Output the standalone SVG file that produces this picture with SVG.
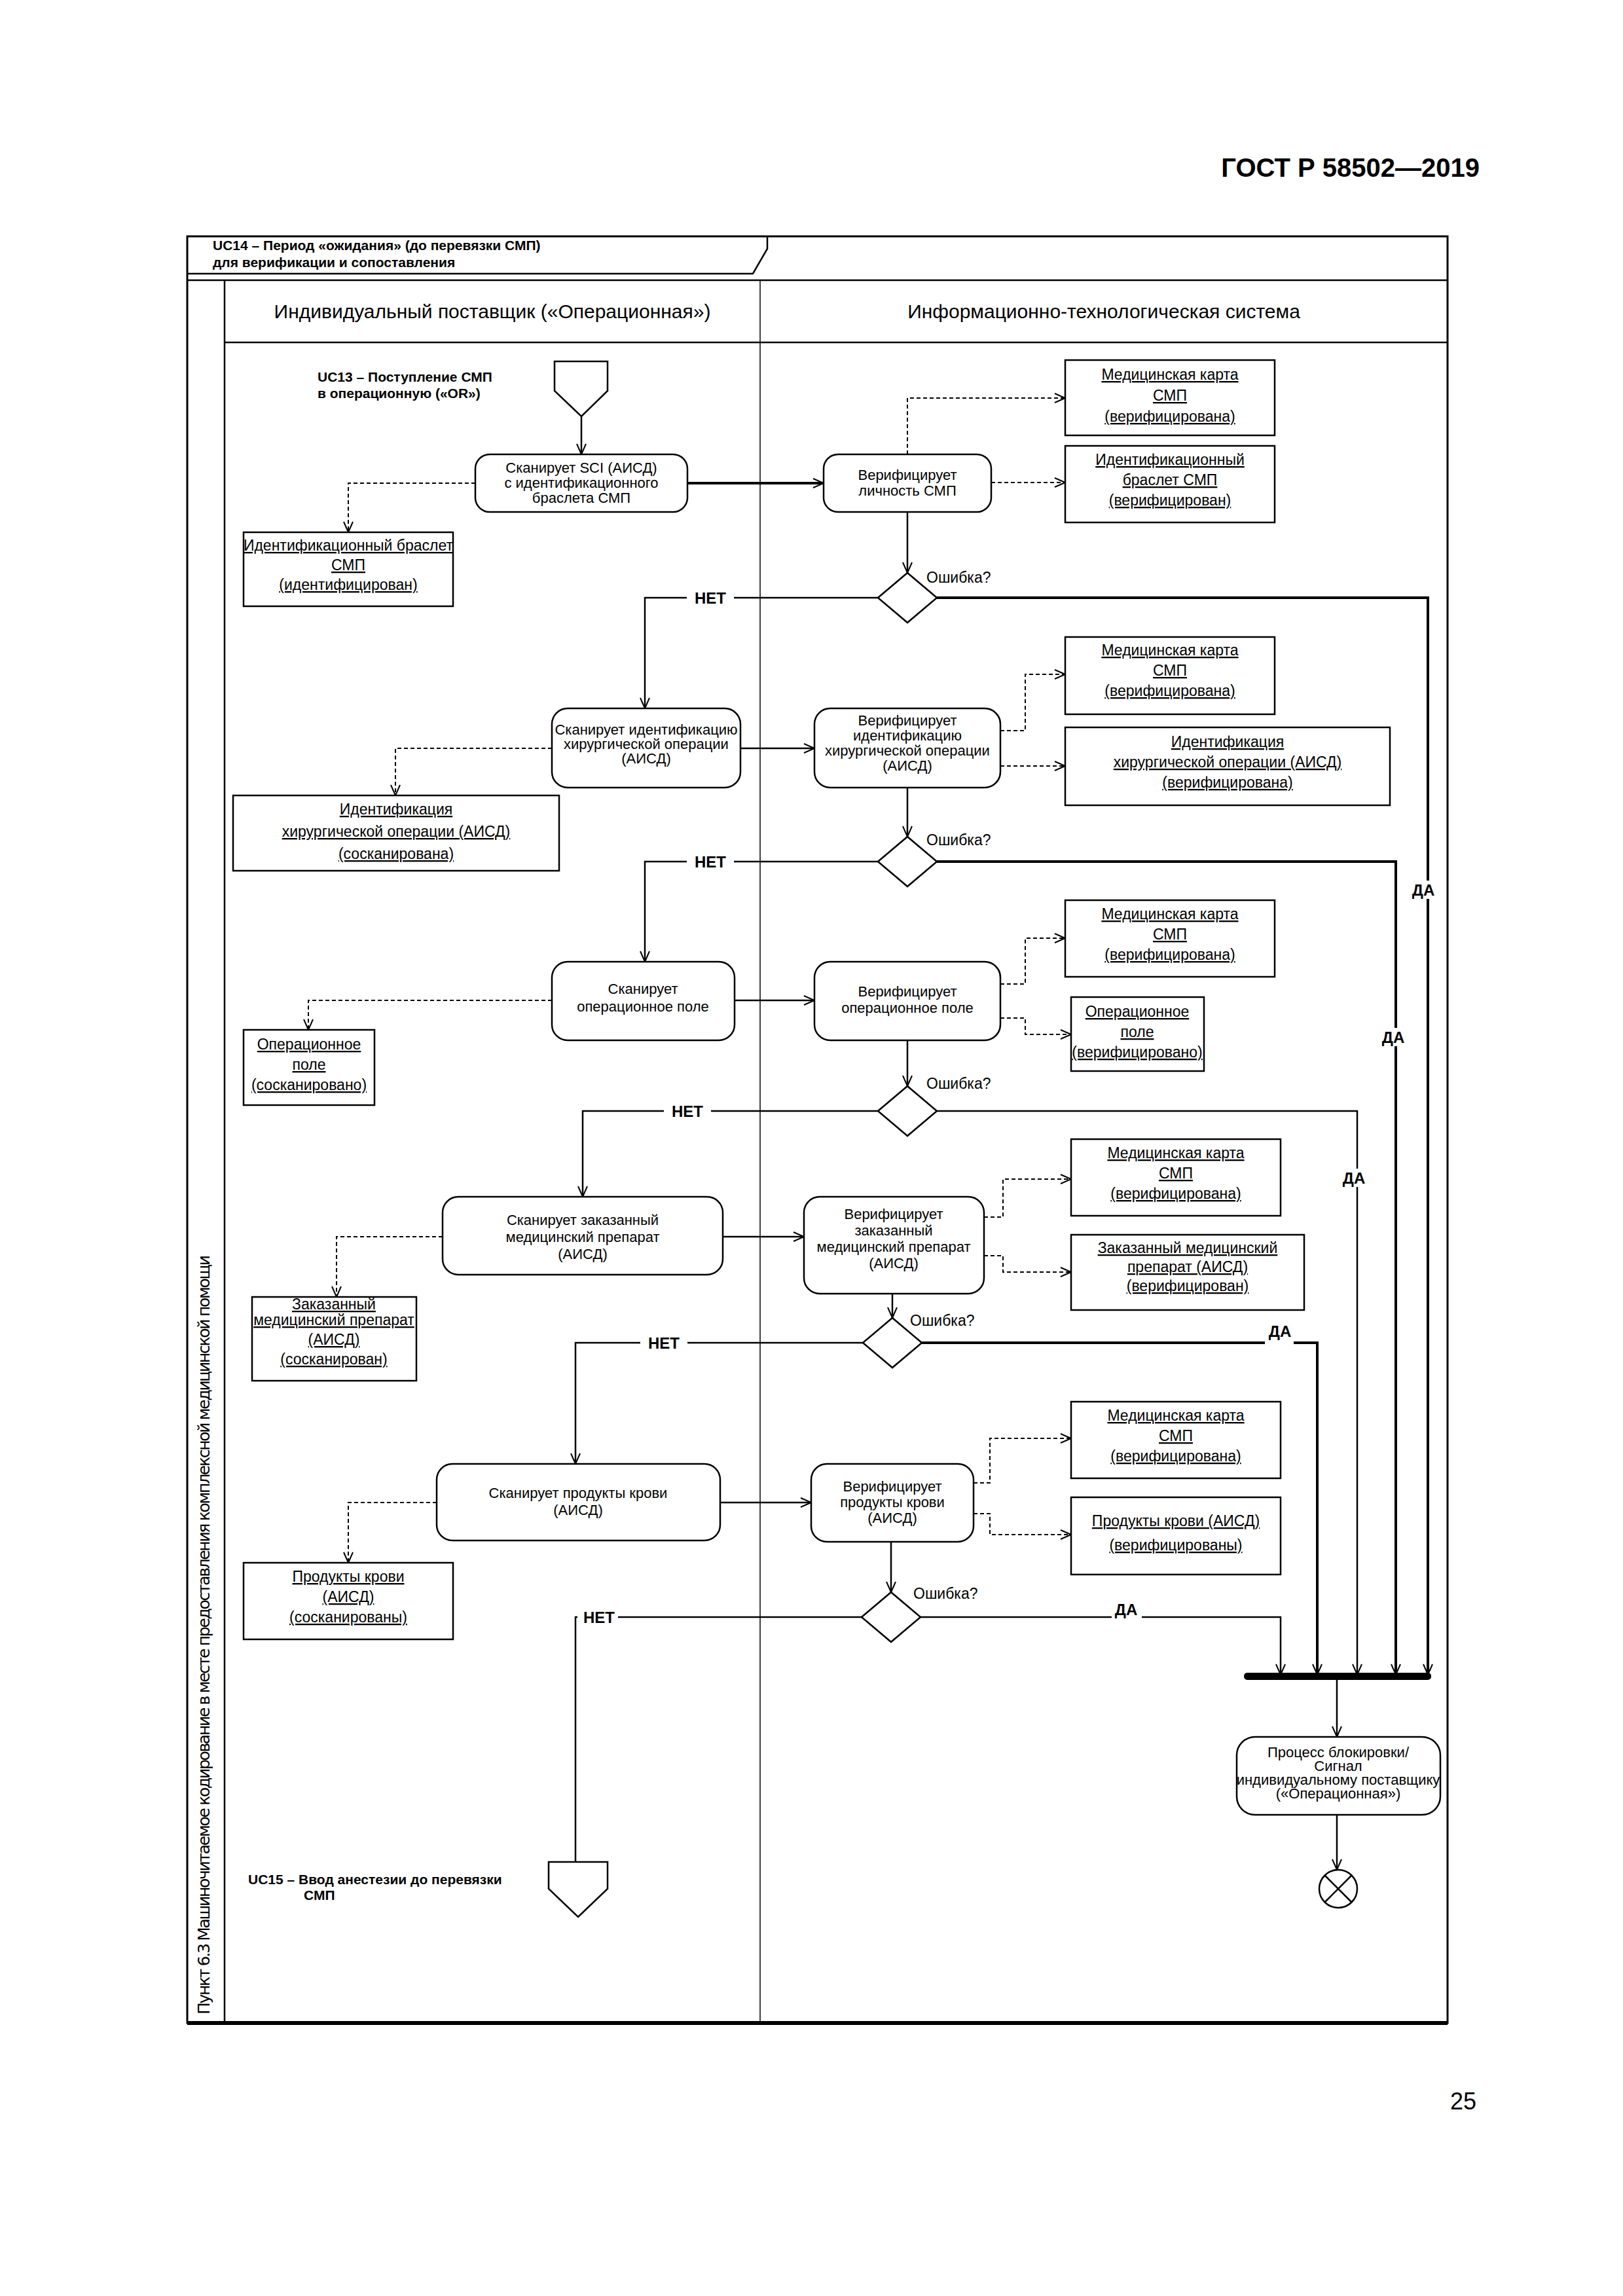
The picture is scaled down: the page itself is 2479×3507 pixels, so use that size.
<svg xmlns="http://www.w3.org/2000/svg" width="2479" height="3507" viewBox="0 0 2479 3507">
<style>
text{font-family:"Liberation Sans Narrow","Liberation Sans",Arial,sans-serif;fill:#000}
.n{font-size:22px;text-anchor:middle}
.o{font-size:23px;text-anchor:middle;text-decoration:underline}
.b{font-weight:bold}
.act{fill:#fff;stroke:#000;stroke-width:2.5}
.obj{fill:#fff;stroke:#000;stroke-width:2.5}
.ln{fill:none;stroke:#000;stroke-width:2.5}
.thk{fill:none;stroke:#000;stroke-width:4}
.ds{fill:none;stroke:#000;stroke-width:2;stroke-dasharray:6,4}
.dec{fill:#fff;stroke:#000;stroke-width:2.5}
</style>
<defs>
<marker id="ar" viewBox="0 0 20 20" refX="18" refY="10" markerWidth="20" markerHeight="20" markerUnits="userSpaceOnUse" orient="auto"><path d="M2,3 L18,10 L2,17" fill="none" stroke="#000" stroke-width="2"/></marker>
</defs>
<rect width="2479" height="3507" fill="#fff"/>
<text x="2260" y="270" font-size="40" class="b" text-anchor="end" style="font-family:'Liberation Sans',Arial,sans-serif">ГОСТ Р 58502—2019</text>
<text x="2255" y="3222" font-size="36" text-anchor="end" style="font-family:'Liberation Sans',Arial,sans-serif">25</text>

<g id="frame">
<rect x="286" y="361" width="1925" height="2729" fill="none" stroke="#000" stroke-width="3"/>
<line x1="286" y1="3090" x2="2211" y2="3090" stroke="#000" stroke-width="6"/>
<path d="M286,418 H1150 L1172,380 V361" class="ln"/>
<line x1="286" y1="428" x2="2211" y2="428" stroke="#000" stroke-width="2.5"/>
<line x1="343" y1="428" x2="343" y2="3090" stroke="#000" stroke-width="2.5"/>
<line x1="343" y1="523" x2="2211" y2="523" stroke="#000" stroke-width="2.5"/>
<line x1="1161" y1="428" x2="1161" y2="3090" stroke="#000" stroke-width="1.5"/>
<text x="325" y="382" font-size="21" class="b">UC14 – Период «ожидания» (до перевязки СМП)</text>
<text x="325" y="408" font-size="21" class="b">для верификации и сопоставления</text>
<text x="752" y="486" font-size="30" text-anchor="middle">Индивидуальный поставщик («Операционная»)</text>
<text x="1686" y="486" font-size="30" text-anchor="middle">Информационно-технологическая система</text>
<text transform="translate(320,2497) rotate(-90)" font-size="25" text-anchor="middle" textLength="1160" lengthAdjust="spacing" style="font-family:'DejaVu Sans',sans-serif">Пункт 6.3 Машиночитаемое кодирование в месте предоставления комплексной медицинской помощи</text>
</g>

<g id="connectors">
<path d="M888,636 V694" class="ln" marker-end="url(#ar)"/>
<path d="M1050,738 H1258" class="thk" marker-end="url(#ar)"/>
<path d="M726,738 H532 V813" class="ds" marker-end="url(#ar)"/>
<path d="M1386,694 V608 H1627" class="ds" marker-end="url(#ar)"/>
<path d="M1514,737 H1627" class="ds" marker-end="url(#ar)"/>
<path d="M1386,782 V875" class="ln" marker-end="url(#ar)"/>
<path d="M1341,913 H985 V1082" class="ln" marker-end="url(#ar)"/>
<path d="M1431,913 H2181 V2558" class="thk" marker-end="url(#ar)"/>
<path d="M1131,1143 H1244" class="ln" marker-end="url(#ar)"/>
<path d="M843,1143 H604 V1215" class="ds" marker-end="url(#ar)"/>
<path d="M1528,1116 H1566 V1030 H1627" class="ds" marker-end="url(#ar)"/>
<path d="M1528,1170 H1627" class="ds" marker-end="url(#ar)"/>
<path d="M1386,1203 V1278" class="ln" marker-end="url(#ar)"/>
<path d="M1341,1316 H985 V1469" class="ln" marker-end="url(#ar)"/>
<path d="M1431,1316 H2132 V2558" class="thk" marker-end="url(#ar)"/>
<path d="M1122,1528 H1244" class="ln" marker-end="url(#ar)"/>
<path d="M843,1528 H471 V1573" class="ds" marker-end="url(#ar)"/>
<path d="M1528,1503 H1566 V1433 H1627" class="ds" marker-end="url(#ar)"/>
<path d="M1528,1555 H1566 V1580 H1636" class="ds" marker-end="url(#ar)"/>
<path d="M1386,1589 V1659" class="ln" marker-end="url(#ar)"/>
<path d="M1341,1697 H890 V1828" class="ln" marker-end="url(#ar)"/>
<path d="M1431,1697 H2073 V2558" class="ln" marker-end="url(#ar)"/>
<path d="M1104,1889 H1228" class="ln" marker-end="url(#ar)"/>
<path d="M676,1889 H514 V1981" class="ds" marker-end="url(#ar)"/>
<path d="M1503,1859 H1532 V1801 H1636" class="ds" marker-end="url(#ar)"/>
<path d="M1503,1918 H1532 V1943 H1636" class="ds" marker-end="url(#ar)"/>
<path d="M1363,1976 V2013" class="ln" marker-end="url(#ar)"/>
<path d="M1318,2051 H879 V2236" class="ln" marker-end="url(#ar)"/>
<path d="M1408,2051 H2012 V2558" class="thk" marker-end="url(#ar)"/>
<path d="M1100,2295 H1239" class="ln" marker-end="url(#ar)"/>
<path d="M667,2295 H532 V2387" class="ds" marker-end="url(#ar)"/>
<path d="M1487,2265 H1512 V2197 H1636" class="ds" marker-end="url(#ar)"/>
<path d="M1487,2312 H1512 V2344 H1636" class="ds" marker-end="url(#ar)"/>
<path d="M1361,2355 V2432" class="ln" marker-end="url(#ar)"/>
<path d="M1316,2470 H879 V2844" class="ln"/>
<path d="M1406,2470 H1956 V2558" class="ln" marker-end="url(#ar)"/>
<path d="M2042,2566 V2653" class="ln" marker-end="url(#ar)"/>
<path d="M2042,2772 V2856" class="ln" marker-end="url(#ar)"/>
<rect x="1049" y="900" width="72" height="26" fill="#fff"/><text x="1085" y="922" font-size="24" class="b" text-anchor="middle">НЕТ</text>
<rect x="1049" y="1303" width="72" height="26" fill="#fff"/><text x="1085" y="1325" font-size="24" class="b" text-anchor="middle">НЕТ</text>
<rect x="1014" y="1684" width="72" height="26" fill="#fff"/><text x="1050" y="1706" font-size="24" class="b" text-anchor="middle">НЕТ</text>
<rect x="978" y="2038" width="72" height="26" fill="#fff"/><text x="1014" y="2060" font-size="24" class="b" text-anchor="middle">НЕТ</text>
<rect x="882" y="2457" width="62" height="26" fill="#fff"/><text x="915" y="2479" font-size="24" class="b" text-anchor="middle">НЕТ</text>
<rect x="2162" y="1345" width="38" height="28" fill="#fff"/><text x="2174" y="1368" font-size="24" class="b" text-anchor="middle">ДА</text>
<rect x="2113" y="1570" width="38" height="28" fill="#fff"/><text x="2128" y="1593" font-size="24" class="b" text-anchor="middle">ДА</text>
<rect x="2054" y="1785" width="38" height="28" fill="#fff"/><text x="2068" y="1808" font-size="24" class="b" text-anchor="middle">ДА</text>
<rect x="1932" y="2046" width="44" height="10" fill="#fff"/><text x="1955" y="2042" font-size="24" class="b" text-anchor="middle">ДА</text>
<rect x="1698" y="2464" width="46" height="12" fill="#fff"/><text x="1720" y="2467" font-size="24" class="b" text-anchor="middle">ДА</text>
<text x="1415" y="890" font-size="23">Ошибка?</text>
<text x="1415" y="1291" font-size="23">Ошибка?</text>
<text x="1415" y="1663" font-size="23">Ошибка?</text>
<text x="1390" y="2025" font-size="23">Ошибка?</text>
<text x="1395" y="2442" font-size="23">Ошибка?</text>
</g>

<g id="start"><path d="M847,552 H928 V597 L888,636 L847,597 Z" class="ln" fill="#fff"/>
<text x="485" y="583" font-size="21" class="b">UC13 – Поступление СМП</text><text x="485" y="608" font-size="21" class="b">в операционную («OR»)</text></g>

<g id="a1"><rect x="726" y="694" width="324" height="88" rx="22" class="act"/>
<text class="n" x="888" y="722" font-size="20">Сканирует SCI (АИСД)</text><text class="n" x="888" y="745" font-size="20">с идентификационного</text><text class="n" x="888" y="768" font-size="20">браслета СМП</text></g>
<g id="v1"><rect x="1258" y="694" width="256" height="88" rx="22" class="act"/>
<text class="n" x="1386" y="733">Верифицирует</text><text class="n" x="1386" y="757">личность СМП</text></g>
<g id="o1a"><rect x="1627" y="550" width="320" height="115" class="obj"/>
<text class="o" x="1787" y="580">Медицинская карта</text><text class="o" x="1787" y="612">СМП</text><text class="o" x="1787" y="644">(верифицирована)</text></g>
<g id="o1b"><rect x="1627" y="681" width="320" height="117" class="obj"/>
<text class="o" x="1787" y="710">Идентификационный</text><text class="o" x="1787" y="741">браслет СМП</text><text class="o" x="1787" y="772">(верифицирован)</text></g>
<g id="o1l"><rect x="372" y="813" width="320" height="113" class="obj"/>
<text class="o" x="532" y="841" font-size="18">Идентификационный браслет</text><text class="o" x="532" y="871" font-size="20">СМП</text><text class="o" x="532" y="901" font-size="20">(идентифицирован)</text></g>
<g id="d1"><polygon points="1341,913 1386,875 1431,913 1386,951" class="dec"/></g>

<g id="a2"><rect x="843" y="1082" width="288" height="121" rx="24" class="act"/>
<text class="n" x="987" y="1122" font-size="17">Сканирует идентификацию</text><text class="n" x="987" y="1144" font-size="18">хирургической операции</text><text class="n" x="987" y="1166" font-size="18">(АИСД)</text></g>
<g id="v2"><rect x="1244" y="1082" width="284" height="121" rx="24" class="act"/>
<text class="n" x="1386" y="1108" font-size="21">Верифицирует</text><text class="n" x="1386" y="1131" font-size="21">идентификацию</text><text class="n" x="1386" y="1154" font-size="20">хирургической операции</text><text class="n" x="1386" y="1177" font-size="21">(АИСД)</text></g>
<g id="o2a"><rect x="1627" y="973" width="320" height="118" class="obj"/>
<text class="o" x="1787" y="1001">Медицинская карта</text><text class="o" x="1787" y="1032">СМП</text><text class="o" x="1787" y="1063">(верифицирована)</text></g>
<g id="o2b"><rect x="1627" y="1111" width="496" height="119" class="obj"/>
<text class="o" x="1875" y="1141">Идентификация</text><text class="o" x="1875" y="1172">хирургической операции (АИСД)</text><text class="o" x="1875" y="1203">(верифицирована)</text></g>
<g id="o2l"><rect x="356" y="1215" width="498" height="115" class="obj" stroke-width="4"/>
<text class="o" x="605" y="1244" font-size="25">Идентификация</text><text class="o" x="605" y="1278" font-size="25">хирургической операции (АИСД)</text><text class="o" x="605" y="1312" font-size="25">(сосканирована)</text></g>
<g id="d2"><polygon points="1341,1316 1386,1278 1431,1316 1386,1354" class="dec"/></g>

<g id="a3"><rect x="843" y="1469" width="279" height="120" rx="24" class="act"/>
<text class="n" x="982" y="1518" font-size="24">Сканирует</text><text class="n" x="982" y="1545" font-size="24">операционное поле</text></g>
<g id="v3"><rect x="1244" y="1469" width="284" height="120" rx="24" class="act"/>
<text class="n" x="1386" y="1522">Верифицирует</text><text class="n" x="1386" y="1547">операционное поле</text></g>
<g id="o3a"><rect x="1627" y="1375" width="320" height="117" class="obj"/>
<text class="o" x="1787" y="1404">Медицинская карта</text><text class="o" x="1787" y="1435">СМП</text><text class="o" x="1787" y="1466">(верифицирована)</text></g>
<g id="o3b"><rect x="1636" y="1523" width="203" height="113" class="obj"/>
<text class="o" x="1737" y="1553" font-size="21">Операционное</text><text class="o" x="1737" y="1584" font-size="21">поле</text><text class="o" x="1737" y="1615" font-size="21">(верифицировано)</text></g>
<g id="o3l"><rect x="372" y="1573" width="200" height="115" class="obj"/>
<text class="o" x="472" y="1603" font-size="22">Операционное</text><text class="o" x="472" y="1634" font-size="22">поле</text><text class="o" x="472" y="1665" font-size="21">(сосканировано)</text></g>
<g id="d3"><polygon points="1341,1697 1386,1659 1431,1697 1386,1735" class="dec"/></g>

<g id="a4"><rect x="676" y="1828" width="428" height="119" rx="24" class="act"/>
<text class="n" x="890" y="1871" font-size="24">Сканирует заказанный</text><text class="n" x="890" y="1897" font-size="24">медицинский препарат</text><text class="n" x="890" y="1923" font-size="24">(АИСД)</text></g>
<g id="v4"><rect x="1228" y="1828" width="275" height="148" rx="24" class="act"/>
<text class="n" x="1365" y="1862">Верифицирует</text><text class="n" x="1365" y="1887">заказанный</text><text class="n" x="1365" y="1912">медицинский препарат</text><text class="n" x="1365" y="1937">(АИСД)</text></g>
<g id="o4a"><rect x="1636" y="1740" width="320" height="117" class="obj"/>
<text class="o" x="1796" y="1769">Медицинская карта</text><text class="o" x="1796" y="1800">СМП</text><text class="o" x="1796" y="1831">(верифицирована)</text></g>
<g id="o4b"><rect x="1636" y="1886" width="356" height="115" class="obj"/>
<text class="o" x="1814" y="1914" font-size="19">Заказанный медицинский</text><text class="o" x="1814" y="1943" font-size="19">препарат (АИСД)</text><text class="o" x="1814" y="1972" font-size="19">(верифицирован)</text></g>
<g id="o4l"><rect x="385" y="1981" width="251" height="128" class="obj" stroke-width="3.5"/>
<text class="o" x="510" y="2000" font-size="19">Заказанный</text><text class="o" x="510" y="2024" font-size="17">медицинский препарат</text><text class="o" x="510" y="2054" font-size="19">(АИСД)</text><text class="o" x="510" y="2084" font-size="19">(сосканирован)</text></g>
<g id="d4"><polygon points="1318,2051 1363,2013 1408,2051 1363,2089" class="dec"/></g>

<g id="a5"><rect x="667" y="2236" width="433" height="117" rx="24" class="act"/>
<text class="n" x="883" y="2288" font-size="24">Сканирует продукты крови</text><text class="n" x="883" y="2314" font-size="24">(АИСД)</text></g>
<g id="v5"><rect x="1239" y="2236" width="248" height="119" rx="24" class="act"/>
<text class="n" x="1363" y="2278" font-size="20">Верифицирует</text><text class="n" x="1363" y="2302" font-size="20">продукты крови</text><text class="n" x="1363" y="2326" font-size="20">(АИСД)</text></g>
<g id="o5a"><rect x="1636" y="2141" width="320" height="117" class="obj"/>
<text class="o" x="1796" y="2170">Медицинская карта</text><text class="o" x="1796" y="2201">СМП</text><text class="o" x="1796" y="2232">(верифицирована)</text></g>
<g id="o5b"><rect x="1636" y="2287" width="320" height="118" class="obj"/>
<text class="o" x="1796" y="2331" font-size="25">Продукты крови (АИСД)</text><text class="o" x="1796" y="2368" font-size="25">(верифицированы)</text></g>
<g id="o5l"><rect x="372" y="2387" width="320" height="117" class="obj"/>
<text class="o" x="532" y="2416">Продукты крови</text><text class="o" x="532" y="2447">(АИСД)</text><text class="o" x="532" y="2478">(сосканированы)</text></g>
<g id="d5"><polygon points="1316,2470 1361,2432 1406,2470 1361,2508" class="dec"/></g>

<g id="bar"><rect x="1900" y="2555" width="286" height="11" rx="5" fill="#000"/></g>
<g id="lock"><rect x="1889" y="2653" width="311" height="119" rx="28" class="act"/>
<text class="n" x="2044" y="2684" font-size="19">Процесс блокировки/</text><text class="n" x="2044" y="2705" font-size="19">Сигнал</text><text class="n" x="2044" y="2726" font-size="17">индивидуальному поставщику</text><text class="n" x="2044" y="2747" font-size="19">(«Операционная»)</text></g>
<g id="final"><circle cx="2044" cy="2885" r="29" fill="#fff" stroke="#000" stroke-width="2.5"/>
<path d="M2024,2865 L2064,2905 M2064,2865 L2024,2905" class="ln"/></g>
<g id="endnode"><path d="M838,2844 H928 V2885 L883,2928 L838,2885 Z" class="ln" fill="#fff"/>
<text x="379" y="2878" font-size="21" class="b">UC15 – Ввод анестезии до перевязки</text><text x="464" y="2902" font-size="21" class="b">СМП</text></g>
</svg>
